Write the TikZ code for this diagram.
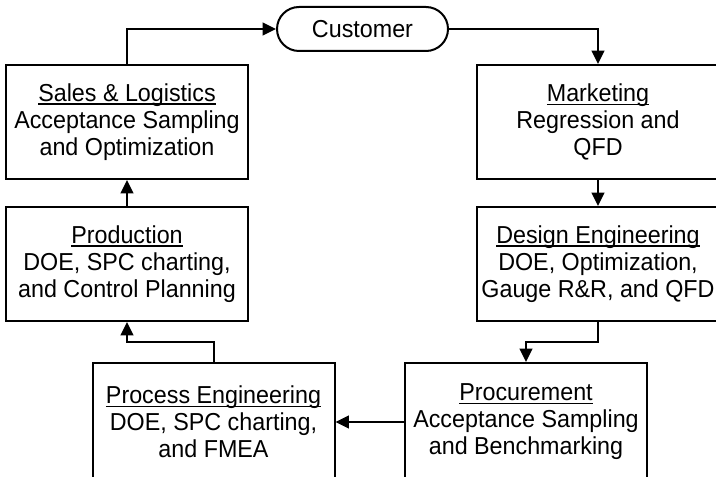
\documentclass[tikz,border=0pt]{standalone}
\usepackage{fontspec}
\setmainfont[FakeStretch=0.95]{Liberation Sans}
\usetikzlibrary{arrows.meta,shapes.misc,calc}

% title underline placed at a fixed depth below the baseline
\newcommand\uline[1]{\setbox0\hbox{#1}\rlap{\rule[-2.4pt]{\wd0}{0.9pt}}\box0}

\tikzset{
  stage/.style={draw, line width=1.5pt, minimum width=181.5pt, minimum height=85.5pt,
    align=center, inner sep=0pt, font=\fontsize{18.4pt}{20.25pt}\selectfont},
  tallstage/.style={stage, minimum height=88.5pt},
  pill/.style={draw, line width=1.5pt, rounded rectangle, minimum width=128.25pt,
    minimum height=33pt, inner sep=0pt, font=\fontsize{18.4pt}{20.25pt}\selectfont},
  flow/.style={line width=1.5pt, -{Triangle[length=10pt,width=9.5pt]}}
}

\begin{document}
\begin{tikzpicture}[x=0.75pt, y=-0.75pt]
  \useasboundingbox[fill=white] (0,0) rectangle (716,477);

  \node[pill] (cust) at (362.5,29) {Customer};

  \node[stage] (sales) at (127,122)
    {\uline{Sales \& Logistics}\\Acceptance Sampling\\and Optimization};
  \node[stage] (prod) at (127,264)
    {\uline{Production}\\DOE, SPC charting,\\and Control Planning};

  \node[stage] (mkt) at (598,122)
    {\uline{Marketing}\\Regression and\\QFD};
  \node[stage] (des) at (598,264)
    {\uline{Design Engineering}\\DOE, Optimization,\\Gauge R\&R, and QFD};

  \node[tallstage] (pe) at (213.5,422)
    {\uline{Process Engineering}\\DOE, SPC charting,\\and FMEA};
  \node[tallstage] (proc) at (526,422)
    {\uline{Procurement}\\Acceptance Sampling\\and Benchmarking};

  % flow of the cycle
  \draw[flow] (sales.north) |- (cust.west);
  \draw[flow] (cust.east) -| (mkt.north);
  \draw[flow] (mkt.south) -- (des.north);
  \draw[flow] (des.south) |- ($(des.south)!.5!(proc.north)$) -| (proc.north);
  \draw[flow] (proc.west) -- (pe.east);
  \draw[flow] (pe.north) |- ($(pe.north)!.5!(prod.south)$) -| (prod.south);
  \draw[flow] (prod.north) -- (sales.south);
\end{tikzpicture}
\end{document}
